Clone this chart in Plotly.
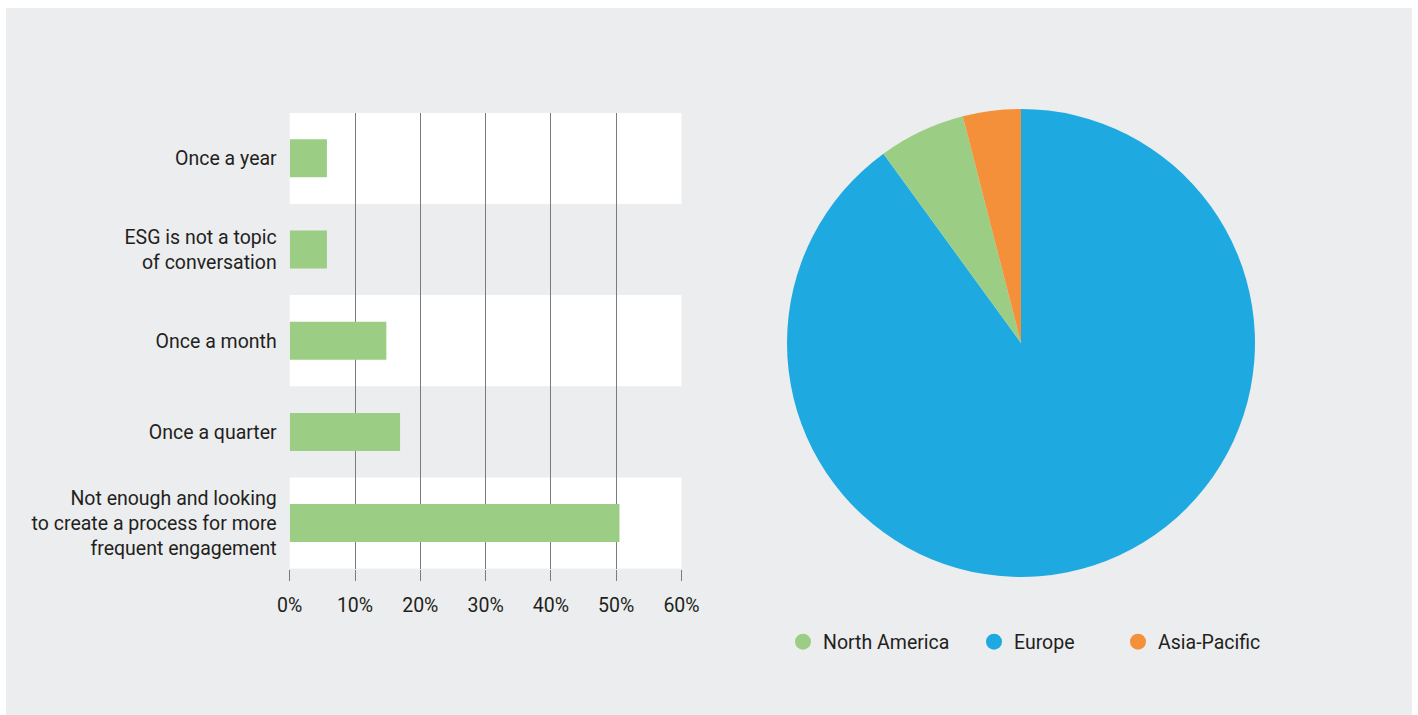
import plotly.graph_objects as go

# ---- data ----
categories = [
    "Once a year",
    "ESG is not a topic of conversation",
    "Once a month",
    "Once a quarter",
    "Not enough and looking to create a process for more frequent engagement",
]
tick_labels = [
    "Once a year",
    "ESG is not a topic<br>of conversation",
    "Once a month",
    "Once a quarter",
    "Not enough and looking<br>to create a process for more<br>frequent engagement",
]
shares = [5.7, 5.7, 14.8, 16.9, 50.5]
x_ticks = [0, 10, 20, 30, 40, 50, 60]
x_tick_text = ["0%", "10%", "20%", "30%", "40%", "50%", "60%"]

regions = ["Europe", "North America", "Asia-Pacific"]
region_values = [90, 6, 4]
legend_order = ["North America", "Europe", "Asia-Pacific"]

# ---- style ----
W, H = 1418, 715
GREEN = "#9BCE84"
BLUE = "#1EAAE1"
ORANGE = "#F5903A"
GRAY_BG = "#ECEDEF"
TEXT = "#231F20"
GRID = "#7A7B7E"
FONT = "Roboto"
FONT_SIZE = 19.5
region_colors = {"Asia-Pacific": ORANGE, "North America": GREEN, "Europe": BLUE}

fig = go.Figure()

fig.add_trace(go.Bar(
    y=categories, x=shares, orientation="h",
    marker=dict(color=GREEN, line=dict(width=0)),
    showlegend=False, hoverinfo="skip",
))

fig.add_trace(go.Pie(
    labels=regions, values=region_values,
    marker=dict(colors=[region_colors[r] for r in regions], line=dict(width=0)),
    sort=False, direction="clockwise", rotation=0,
    textinfo="none", showlegend=False, hoverinfo="label+percent",
    domain=dict(x=[787 / W, 1255 / W], y=[1 - 577 / H, 1 - 109 / H]),
))

legend_names = ["legend", "legend2", "legend3"]
legend_x = [783, 974, 1118]
for name, lg in zip(legend_order, legend_names):
    fig.add_trace(go.Scatter(
        x=[None], y=[None], mode="markers", name=name,
        marker=dict(symbol="circle", size=18, color=region_colors[name]),
        legend=lg, hoverinfo="skip",
    ))

shapes = [dict(
    type="rect", xref="paper", yref="paper",
    x0=6 / W, x1=1412 / W, y0=-0.05, y1=1 - 8 / H,
    fillcolor=GRAY_BG, line=dict(width=0), layer="below",
)]
for i in (0, 2, 4):
    shapes.append(dict(
        type="rect", xref="x domain", yref="y",
        x0=0, x1=1, y0=i - 0.5, y1=i + 0.5,
        fillcolor="white", line=dict(width=0), layer="below",
    ))

legend_common = dict(
    orientation="h", yanchor="middle", xanchor="left",
    bgcolor="rgba(0,0,0,0)", borderwidth=0,
    font=dict(family=FONT, size=FONT_SIZE, color=TEXT),
    itemclick=False, itemdoubleclick=False,
)
layout_legends = {}
for lg, lx in zip(legend_names, legend_x):
    layout_legends[lg] = dict(legend_common, x=lx / W, y=1 - 642 / H)

fig.update_layout(
    width=W, height=H,
    margin=dict(l=0, r=0, t=0, b=0, autoexpand=False),
    paper_bgcolor="white",
    plot_bgcolor="rgba(0,0,0,0)",
    font=dict(family=FONT, size=FONT_SIZE, color=TEXT),
    shapes=shapes,
    bargap=0.583,
    xaxis=dict(
        domain=[289.7 / W, 681.5 / W],
        range=[0, 60], tickvals=x_ticks, ticktext=x_tick_text,
        showgrid=True, gridcolor=GRID, gridwidth=1,
        zeroline=False, showline=False,
        ticks="outside", ticklen=11, tickcolor=GRID, tickwidth=1,
        ticklabelstandoff=8, automargin=False,
        fixedrange=True,
    ),
    yaxis=dict(
        domain=[1 - 568.7 / H, 1 - 112.7 / H],
        categoryorder="array", categoryarray=categories,
        autorange="reversed",
        tickmode="array", tickvals=categories, ticktext=tick_labels,
        showgrid=False, zeroline=False, showline=False,
        ticks="", ticklabelstandoff=12, automargin=False,
        fixedrange=True,
    ),
    **layout_legends,
)

fig.write_html(
    "out.html",
    config={"displayModeBar": False},
    post_script="document.body.style.margin='0px';document.body.style.overflow='hidden';",
)
